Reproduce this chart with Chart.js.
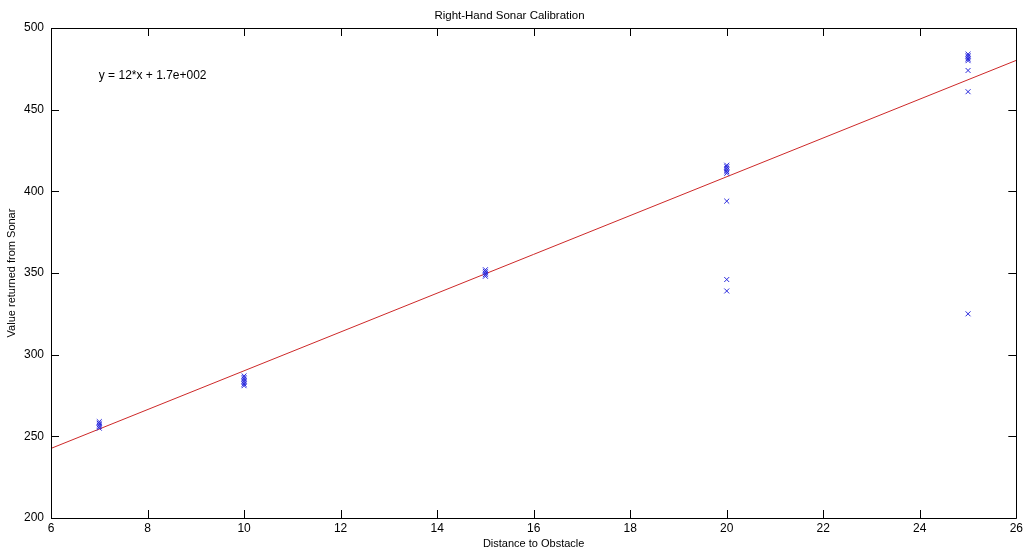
<!DOCTYPE html>
<html>
<head>
<meta charset="utf-8">
<script src="https://cdn.jsdelivr.net/npm/chart.js@4/dist/chart.umd.min.js"></script>
<style>
  html, body { margin: 0; padding: 0; background: #fff; }
  canvas { display: block; }
</style>
</head>
<body>
<canvas id="sonarChart" width="1026" height="555"></canvas>
<script>
// readings off the sonar at each obstacle distance
const readingsAt7 = [255, 256, 257, 258, 259];
const readingsAt10 = [281, 282, 283, 284, 285, 286, 287];
const readingsAt15 = [348, 349, 350, 351, 352];
const readingsAt20 = [411, 412, 413, 414, 415, 416, 394, 346, 339];
const readingsAt25 = [480, 481, 482, 483, 484, 474, 461, 325];

// fitted line, endpoints
const fitX = [6, 26];
const fitY = [242.6, 480.2];
const fitLabel = 'y = 12*x + 1.7e+002';
const fitLabelAt = { x: 6.99, y: 471 };

const xTicks = [6, 8, 10, 12, 14, 16, 18, 20, 22, 24, 26];
const yTicks = [200, 250, 300, 350, 400, 450, 500];

const font = 'Liberation Sans, Arial, sans-serif';

function toPoints(dist, vals) {
    return vals.map(v => ({ x: dist, y: v }));
}

const samples = [].concat(
    toPoints(7, readingsAt7),
    toPoints(10, readingsAt10),
    toPoints(15, readingsAt15),
    toPoints(20, readingsAt20),
    toPoints(25, readingsAt25)
);

// matlab style box with inward ticks, plus the fit equation
const boxTicks = {
    id: 'boxTicks',
    afterDraw(chart) {
        const { ctx, chartArea: a, scales: { x, y } } = chart;
        const len = 8;
        ctx.save();
        ctx.strokeStyle = '#000';
        ctx.lineWidth = 1;
        ctx.beginPath();
        ctx.rect(Math.round(a.left) + 0.5, Math.round(a.top) + 0.5,
                 Math.round(a.right - a.left), Math.round(a.bottom - a.top));
        xTicks.forEach(v => {
            const px = Math.round(x.getPixelForValue(v)) + 0.5;
            ctx.moveTo(px, a.bottom); ctx.lineTo(px, a.bottom - len);
            ctx.moveTo(px, a.top); ctx.lineTo(px, a.top + len);
        });
        yTicks.forEach(v => {
            const py = Math.round(y.getPixelForValue(v)) + 0.5;
            ctx.moveTo(a.left, py); ctx.lineTo(a.left + len, py);
            ctx.moveTo(a.right, py); ctx.lineTo(a.right - len, py);
        });
        ctx.stroke();

        ctx.fillStyle = '#000';
        ctx.font = '12px ' + font;
        ctx.textAlign = 'left';
        ctx.textBaseline = 'middle';
        ctx.fillText(fitLabel, x.getPixelForValue(fitLabelAt.x), y.getPixelForValue(fitLabelAt.y));
        ctx.restore();
    }
};

new Chart(document.getElementById('sonarChart'), {
    type: 'scatter',
    data: {
        datasets: [
            {
                label: 'samples',
                data: samples,
                pointStyle: 'crossRot',
                pointRadius: 3.5,
                pointHoverRadius: 3.5,
                borderWidth: 1,
                borderColor: 'rgb(40,40,220)',
                backgroundColor: 'rgb(40,40,220)'
            },
            {
                label: 'fit',
                data: fitX.map((v, i) => ({ x: v, y: fitY[i] })),
                showLine: true,
                pointRadius: 0,
                borderColor: 'rgb(205,40,40)',
                borderWidth: 1
            }
        ]
    },
    options: {
        responsive: false,
        animation: false,
        layout: { padding: { left: 0, right: 7, top: 0, bottom: 0 } },
        plugins: {
            legend: { display: false },
            tooltip: { enabled: false },
            title: {
                display: true,
                text: 'Right-Hand Sonar Calibration',
                color: '#000',
                font: { family: font, size: 11.5, weight: 'normal' },
                padding: { top: 9, bottom: 5.2 }
            }
        },
        scales: {
            x: {
                type: 'linear',
                min: 6, max: 26,
                afterFit: s => { s.height = 37; },
                afterBuildTicks: s => { s.ticks = xTicks.map(v => ({ value: v })); },
                grid: { display: false, drawTicks: false },
                border: { display: false },
                ticks: { color: '#000', padding: 3, maxRotation: 0, font: { family: font, size: 12 } },
                title: {
                    display: true,
                    text: 'Distance to Obstacle',
                    color: '#000',
                    padding: { top: 0, bottom: 4 },
                    font: { family: font, size: 11 }
                }
            },
            y: {
                type: 'linear',
                min: 200, max: 500,
                afterFit: s => { s.width = 51; },
                afterBuildTicks: s => { s.ticks = yTicks.map(v => ({ value: v })); },
                grid: { display: false, drawTicks: false },
                border: { display: false },
                ticks: { color: '#000', padding: 7, font: { family: font, size: 12 } },
                title: {
                    display: true,
                    text: 'Value returned from Sonar',
                    color: '#000',
                    padding: { top: 5, bottom: 0 },
                    font: { family: font, size: 11 }
                }
            }
        }
    },
    plugins: [boxTicks]
});
</script>
</body>
</html>
